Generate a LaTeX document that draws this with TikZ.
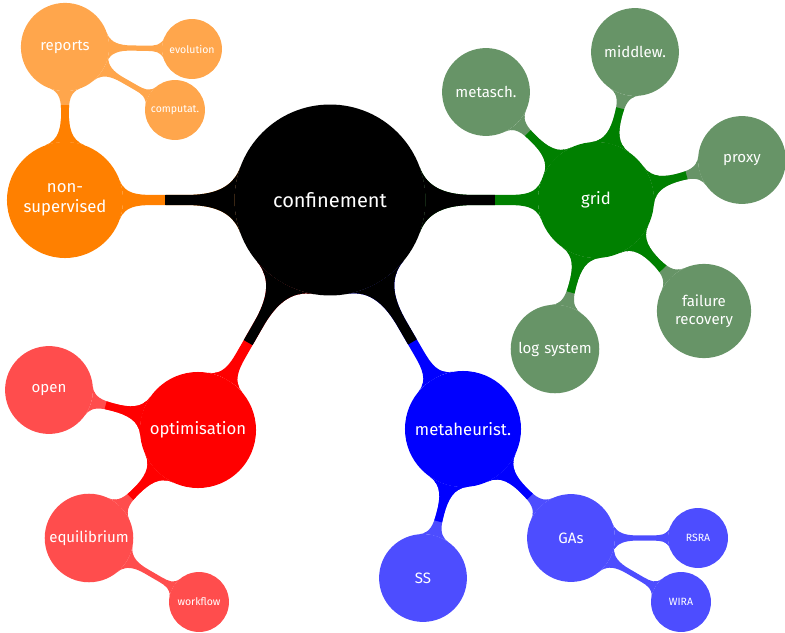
\documentclass[tikz,border=0pt]{standalone}
\usepackage{fontspec}
\setmainfont{Fira Sans}
\usetikzlibrary{mindmap,backgrounds,calc}
\definecolor{lorange}{rgb}{1,0.65,0.3}
\definecolor{lgreen}{RGB}{103,148,103}
\definecolor{dgreen}{RGB}{0,128,0}
\definecolor{lred}{RGB}{255,77,77}
\definecolor{lblue}{RGB}{77,77,255}
% #1 parent node, #2 child node, #3 parent colour, #4 child colour, #5 width style
\newcommand\mmconn[5]{%
  \path[#5] (#1) to[circle connection bar switch color=from (#4) to (#4)] (#2);
  \begin{scope}
    \coordinate (mmP) at ($(#1)!0.62!(#2)$);
    \clip ($(mmP)!300pt!90:(#2)$) -- ($(mmP)!424pt!135:(#2)$) --
          ($(mmP)!424pt!-135:(#2)$) -- ($(mmP)!300pt!-90:(#2)$) -- cycle;
    \path[#5] (#1) to[circle connection bar switch color=from (#3) to (#3)] (#2);
  \end{scope}}
\begin{document}
\begin{tikzpicture}[x=0.599pt,y=-0.599pt,
  base/.style={circle, text=white, align=center, inner sep=1pt, outer sep=0pt},
  rootc/.style={base, fill=black, minimum size=114.4pt, text width=3.5cm, font=\large},
  lone/.style={base, minimum size=69.5pt, text width=60pt, font=\normalsize},
  ltwo/.style={base, minimum size=52.1pt, text width=50pt, font=\small},
  lthree/.style={base, minimum size=35.9pt, text width=32pt, font=\fontsize{6.3}{7.5}\selectfont},
  bone/.style={line width=6.4pt},
  btwo/.style={line width=4.4pt},
  bthree/.style={line width=3.6pt}]
\useasboundingbox (0,0) rectangle (785,633);
% root
\node[rootc] (root) at (330,200) {confinement};
% level 1
\node[lone, fill=orange] (ns) at (65,200) {non-supervised};
\node[lone, fill=dgreen] (grid) at (596,200) {grid};
\node[lone, fill=red] (opt) at (198,430) {optimisation};
\node[lone, fill=blue] (meta) at (463,429) {metaheurist.};
% level 2
\node[ltwo, fill=lorange] (reports) at (65,47) {reports};
\node[ltwo, fill=lgreen] (metasch) at (486,92) {metasch.};
\node[ltwo, fill=lgreen] (middlew) at (635,52) {middlew.};
\node[ltwo, fill=lgreen] (proxy) at (742,160) {proxy};
\node[ltwo, fill=lgreen] (failure) at (704,311) {failure recovery};
\node[ltwo, fill=lgreen] (logsys) at (555,349) {log system};
\node[ltwo, fill=lred] (open) at (49,390) {open};
\node[ltwo, fill=lred] (equil) at (89,538) {equilibrium};
\node[ltwo, fill=lblue] (ss) at (423,578) {SS};
\node[ltwo, fill=lblue] (gas) at (571,538) {GAs};
% level 3
\node[lthree, fill=lorange] (evol) at (192,49) {evolution};
\node[lthree, fill=lorange] (comp) at (175,110) {computat.};
\node[lthree, fill=lred] (work) at (199,602) {workflow};
\node[lthree, fill=lblue] (rsra) at (698,538) {RSRA};
\node[lthree, fill=lblue] (wira) at (681,602) {WIRA};
\begin{pgfonlayer}{background}
\mmconn{root}{ns}{black}{orange}{bone}
\mmconn{root}{grid}{black}{dgreen}{bone}
\mmconn{root}{opt}{black}{red}{bone}
\mmconn{root}{meta}{black}{blue}{bone}
\mmconn{ns}{reports}{orange}{lorange}{btwo}
\mmconn{grid}{metasch}{dgreen}{lgreen}{btwo}
\mmconn{grid}{middlew}{dgreen}{lgreen}{btwo}
\mmconn{grid}{proxy}{dgreen}{lgreen}{btwo}
\mmconn{grid}{failure}{dgreen}{lgreen}{btwo}
\mmconn{grid}{logsys}{dgreen}{lgreen}{btwo}
\mmconn{opt}{open}{red}{lred}{btwo}
\mmconn{opt}{equil}{red}{lred}{btwo}
\mmconn{meta}{ss}{blue}{lblue}{btwo}
\mmconn{meta}{gas}{blue}{lblue}{btwo}
\path[bthree] (reports) to[circle connection bar switch color=from (lorange) to (lorange)] (evol);
\path[bthree] (reports) to[circle connection bar switch color=from (lorange) to (lorange)] (comp);
\path[bthree] (equil) to[circle connection bar switch color=from (lred) to (lred)] (work);
\path[bthree] (gas) to[circle connection bar switch color=from (lblue) to (lblue)] (rsra);
\path[bthree] (gas) to[circle connection bar switch color=from (lblue) to (lblue)] (wira);
\end{pgfonlayer}
\end{tikzpicture}
\end{document}
